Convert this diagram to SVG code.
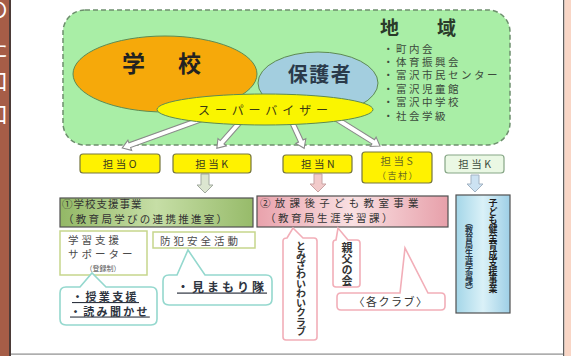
<svg xmlns="http://www.w3.org/2000/svg" width="571" height="356" viewBox="0 0 571 356">
<style>
text{font-family:"Noto Sans CJK JP","Noto Sans",sans-serif;fill:#333}
.tag{fill:#FFF200;stroke:#76763E;stroke-width:1.2}
.tagt{font-size:10.5px;letter-spacing:2.5px;text-anchor:middle;fill:#3A3A1E}
.sub{fill:#fff;stroke:#C6D68C;stroke-width:1.5}
.subt{font-size:10.5px;letter-spacing:3px;fill:#4A4A4A}
.bub{fill:#fff;stroke:#94D8CE;stroke-width:1.6}
.bubt{font-size:11px;font-weight:bold;text-decoration:underline;fill:#2E3440}
.pbub{fill:#fff;stroke:#F2AEB8;stroke-width:1.6}
.vt{writing-mode:vertical-rl;font-weight:bold}
.sv{fill:#fff;stroke:#8A8A8A;stroke-width:1.1}
.list{font-size:10.5px;letter-spacing:2.5px;fill:#3C4A3C}
.side{font-size:22px;text-anchor:end;fill:#fff}
</style>
<defs>
<linearGradient id="gG" x1="0" y1="0" x2="1" y2="0">
<stop offset="0" stop-color="#93B866"/><stop offset="0.5" stop-color="#C6DEA6"/><stop offset="1" stop-color="#97BB6A"/>
</linearGradient>
<linearGradient id="gP" x1="0" y1="0" x2="1" y2="0">
<stop offset="0" stop-color="#E9A2AC"/><stop offset="0.5" stop-color="#F9E0E2"/><stop offset="1" stop-color="#E7A0AA"/>
</linearGradient>
<linearGradient id="gB" x1="0" y1="0" x2="1" y2="0">
<stop offset="0" stop-color="#A4D6E8"/><stop offset="0.5" stop-color="#DAF1F8"/><stop offset="1" stop-color="#9ECFE6"/>
</linearGradient>
</defs>

<!-- page frame -->
<rect x="0" y="0" width="571" height="356" fill="#FFFFFF"/>
<rect x="0" y="0" width="9" height="356" fill="#A65D47"/>
<rect x="9" y="0" width="2" height="356" fill="#4B3B38"/>
<text class="side" x="8" y="17">の</text>
<text class="side" x="8" y="56">た</text>
<text class="side" x="8" y="89">口</text>
<text class="side" x="8" y="122">口</text>
<rect x="11" y="353.5" width="552" height="1.2" fill="#8C8C8C"/>
<rect x="563" y="0" width="1.5" height="356" fill="#5E5E5E"/>
<rect x="564.5" y="0" width="6.5" height="356" fill="#F9D6C6"/>

<!-- community area -->
<g id="chiiki">
<rect x="63" y="10" width="447" height="135" rx="22" fill="#A9EEA6" stroke="#6D8F6D" stroke-width="1.5" stroke-dasharray="5,3"/>
<text x="380" y="35" font-size="19" font-weight="bold" letter-spacing="9.5" style="fill:#2A3A2A">地　域</text>
<text class="list">
<tspan x="383" y="52.5">・町内会</tspan>
<tspan x="383" y="66">・体育振興会</tspan>
<tspan x="383" y="79.4">・富沢市民センター</tspan>
<tspan x="383" y="92.8">・富沢児童館</tspan>
<tspan x="383" y="106.2">・富沢中学校</tspan>
<tspan x="383" y="119.6">・社会学級</tspan>
</text>
</g>

<g id="gakko">
<ellipse cx="165" cy="74" rx="92" ry="38" fill="#F6A90A" stroke="#5E8A52" stroke-width="1"/>
<text x="122" y="72" font-size="23" font-weight="bold" letter-spacing="5" style="fill:#222">学　校</text>
</g>

<g id="hogosha">
<ellipse cx="318" cy="83" rx="60" ry="31" fill="#A3CEDF" stroke="#5E8A52" stroke-width="1"/>
<text x="320" y="82" font-size="20" font-weight="bold" letter-spacing="1.5" text-anchor="middle" style="fill:#2A3A4A">保護者</text>
</g>

<!-- connectors -->
<g id="connectors">
<path class="sv" transform="translate(205,118) rotate(160.1)" d="M0,-2.5 H80 V-5.5 L88,0 L80,5.5 V2.5 H0 Z"/>
<path class="sv" transform="translate(240,122) rotate(131.5)" d="M0,-2.5 H27 V-5.5 L35,0 L27,5.5 V2.5 H0 Z"/>
<path class="sv" transform="translate(292,122) rotate(65.2)" d="M0,-2.5 H21 V-5.5 L29,0 L21,5.5 V2.5 H0 Z"/>
<path class="sv" transform="translate(335,118) rotate(31.9)" d="M0,-2.5 H45 V-5.5 L53,0 L45,5.5 V2.5 H0 Z"/>
<path d="M201,174 H209 V185 H213 L205,193 L197,185 H201 Z" fill="#DCE6D0" stroke="#A2AAA0" stroke-width="1"/>
<path d="M314,174 H322 V184 H326 L318,192 L310,184 H314 Z" fill="#F2CACA" stroke="#C8A4A4" stroke-width="1"/>
<path d="M471,175 H479 V184 H483 L475,192 L467,184 H471 Z" fill="#CCE2F2" stroke="#A2B2C2" stroke-width="1"/>
</g>

<g id="supervisor">
<ellipse cx="265" cy="109.5" rx="108" ry="15.5" fill="#FAF500" stroke="#5E8A52" stroke-width="1"/>
<text x="198" y="114.5" font-size="12" letter-spacing="4.9" style="fill:#3A3A10">スーパーバイザー</text>
</g>

<g id="tantoO">
<rect class="tag" x="80" y="154" width="80" height="19" rx="3"/>
<text class="tagt" x="121" y="167.5">担当O</text>
</g>
<g id="tantoK1">
<rect class="tag" x="173" y="154" width="78" height="19" rx="3"/>
<text class="tagt" x="213" y="167.5">担当K</text>
</g>
<g id="tantoN">
<rect class="tag" x="283" y="155" width="69" height="18" rx="3"/>
<text class="tagt" x="319" y="168">担当N</text>
</g>
<g id="tantoS">
<rect class="tag" x="362" y="152" width="70" height="31" rx="3"/>
<text class="tagt" x="398" y="165" style="fill:#6A6A20">担当S</text>
<text class="tagt" x="398" y="179" style="font-size:9px;letter-spacing:1.5px;fill:#6A6A20">（吉村）</text>
</g>
<g id="tantoK2">
<rect x="445" y="155" width="59" height="18" rx="3" fill="#EAF8E4" stroke="#86A686" stroke-width="1.2"/>
<text class="tagt" x="476" y="168" style="fill:#3E4E3E">担当K</text>
</g>

<g id="gakkoshien">
<rect x="60" y="198" width="193" height="29" fill="url(#gG)" stroke="#505050" stroke-width="1.2"/>
<text x="62" y="207.5" font-size="10.5" letter-spacing="1">①学校支援事業</text>
<text x="63" y="222.5" font-size="10.5" letter-spacing="2.3">（教育局学びの連携推進室）</text>
</g>
<g id="houkago">
<rect x="257" y="196" width="191" height="31" fill="url(#gP)" stroke="#505050" stroke-width="1.2"/>
<text x="260" y="207" font-size="10.5" letter-spacing="4.3">②放課後子ども教室事業</text>
<text x="265" y="222" font-size="10.5" letter-spacing="2.5">（教育局生涯学習課）</text>
</g>
<g id="kenzen">
<rect x="456" y="195" width="54" height="118" fill="url(#gB)" stroke="#505050" stroke-width="1.2"/>
<text class="vt" x="493" y="198" font-size="9" letter-spacing="-0.4" style="fill:#1E1E1E">子ども健全育成支援事業</text>
<text class="vt" x="469" y="219" font-size="8" letter-spacing="-0.6" style="fill:#2A3A4A">（教育局生涯学習課）</text>
</g>

<g id="supporter">
<rect class="sub" x="60" y="231" width="87" height="44"/>
<text class="subt" x="68" y="243.5">学習支援</text>
<text class="subt" x="68" y="258">サポーター</text>
<text x="103" y="271" font-size="7" text-anchor="middle" style="fill:#555">（登録制）</text>
</g>
<g id="bohan">
<rect class="sub" x="153" y="232" width="102" height="16"/>
<text class="subt" x="160" y="244.5">防犯安全活動</text>
</g>

<g id="jugyo">
<path class="bub" d="M66,287 H80 L92,273 L106,287 H151 Q157,287 157,293 V319 Q157,325 151,325 H66 Q60,325 60,319 V293 Q60,287 66,287 Z"/>
<text class="bubt" x="72" y="301" letter-spacing="2.4">・授業支援</text>
<text class="bubt" x="70" y="315.5" letter-spacing="2.3">・読み聞かせ</text>
</g>
<g id="mimamori">
<path class="bub" d="M169,275 H177 L188,250 L205,275 H266 Q272,275 272,281 V299 Q272,305 266,305 H169 Q163,305 163,299 V281 Q163,275 169,275 Z"/>
<text class="bubt" x="177" y="291.5" letter-spacing="3" style="font-size:12px">・見まもり隊</text>
</g>

<g id="iwai">
<path class="pbub" d="M287,238 L293,228 L303,238 H314 Q317,238 317,241 V337 Q317,340 314,340 H286 Q283,340 283,337 V241 Q283,238 287,238 Z"/>
<text class="vt" x="301" y="241" font-size="10" letter-spacing="-0.5">とみざわいわいクラブ</text>
</g>
<g id="oyaji">
<path class="pbub" d="M336,240 L338,228 L348,240 H357 Q360,240 360,243 V284 Q360,287 357,287 H336 Q333,287 333,284 V243 Q333,240 336,240 Z"/>
<text class="vt" x="347" y="242" font-size="11">親父の会</text>
</g>
<g id="club">
<path class="pbub" d="M341,293 H400 L405,248 L428,293 H441 Q445,293 445,297 V306 Q445,310 441,310 H341 Q337,310 337,306 V297 Q337,293 341,293 Z"/>
<text x="391" y="305.5" font-size="11" letter-spacing="1.5" text-anchor="middle">〈各クラブ〉</text>
</g>
</svg>
